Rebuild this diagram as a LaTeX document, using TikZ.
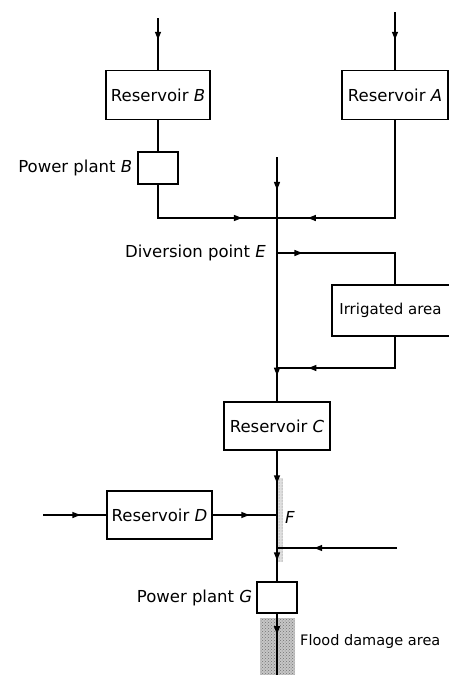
\documentclass[tikz,border=0pt]{standalone}
\usepackage{fontspec}
\setmainfont{DejaVu Sans}
\usetikzlibrary{arrows.meta,decorations.markings,patterns}
\tikzset{
  lbl/.style={font=\fontsize{16.5}{19}\selectfont, inner sep=0pt},
  box/.style={draw, line width=1.3pt, inner sep=0pt, font=\fontsize{16.5}{19}\selectfont, align=center},
  flow/.style={line width=1.4pt},
  arr/.style={postaction={decorate,decoration={markings,mark=at position #1 with {\arrow{Triangle[length=8pt,width=6pt]}}}}}
}
\begin{document}
\begin{tikzpicture}[x=1pt,y=-1pt]
\useasboundingbox (0,0) rectangle (448,675);
% shading
\fill[gray!45] (260,618) rectangle (295,680);
\fill[pattern=crosshatch dots, pattern color=gray!90!black] (260,618) rectangle (295,680);
\fill[gray!25] (278,478) rectangle (283,562);
\fill[pattern=dots, pattern color=gray] (278,478) rectangle (283,562);
% boxes
\node[box,minimum width=104pt,minimum height=49pt] (resB) at (158,95) {Reservoir \textit{B}};
\node[box,minimum width=106pt,minimum height=49pt] (resA) at (395,95) {Reservoir \textit{A}};
\node[box,minimum width=40pt,minimum height=32pt] (ppB) at (158,168) {};
\node[box,minimum width=124pt,minimum height=51pt,font=\fontsize{15}{18}\selectfont] (irr) at (394,310.5) {Irrigated area\hspace{7pt}};
\node[box,minimum width=106pt,minimum height=48pt] (resC) at (277,426) {Reservoir \textit{C}};
\node[box,minimum width=105pt,minimum height=48pt] (resD) at (159.5,515) {Reservoir \textit{D}};
\node[box,minimum width=40pt,minimum height=31pt] (ppG) at (277,597.5) {};
% labels
\node[lbl,anchor=east] (lppB) at ([xshift=-5pt]ppB.west) {Power plant \textit{B}};
\node[lbl,anchor=east] (lE) at (266,253) {Diversion point \textit{E}};
\node[lbl,anchor=west] (lF) at (285,517) {\textit{F}};
\node[lbl,anchor=east] (lppG) at ([xshift=-4pt]ppG.west) {Power plant \textit{G}};
\node[lbl,anchor=west,font=\fontsize{14.5}{17}\selectfont] (lfl) at (300,641) {Flood damage area};
% coordinates
\coordinate (inB) at (158,18);
\coordinate (inA) at (395,12);
\coordinate (topE) at (277,157);
\coordinate (cB) at (158,218);
\coordinate (cA) at (395,218);
\coordinate (J1) at (277,218);
\coordinate (E) at (277,253);
\coordinate (eR) at (395,253);
\coordinate (iR) at (395,368);
\coordinate (J2) at (277,368);
\coordinate (F) at (277,515);
\coordinate (inD) at (43,515);
\coordinate (J3) at (277,548);
\coordinate (inJ3) at (397,548);
\coordinate (bot) at (277,680);
% connectors
\draw[flow,arr=0.42] (inB) -- (resB.north);
\draw[flow,arr=0.48] (inA) -- (resA.north);
\draw[flow] (resB.south) -- (ppB.north);
\draw[flow,arr=0.77] (ppB.south) -- (cB) -- (J1);
\draw[flow,arr=0.857] (resA.south) -- (cA) -- (J1);
\draw[flow,arr=0.54] (topE) -- (J1);
\draw[flow,arr=0.86] (J1) -- (resC.north);
\draw[flow,arr=0.17] (E) -- (eR) -- (eR |- irr.north);
\draw[flow,arr=0.79] (iR |- irr.south) -- (iR) -- (J2);
\draw[flow,arr=0.25,arr=0.84] (resC.south) -- (ppG.north);
\draw[flow,arr=0.59] (inD) -- (resD.west);
\draw[flow,arr=0.57] (resD.east) -- (F);
\draw[flow,arr=0.69] (inJ3) -- (J3);
\draw[flow,arr=0.31] (ppG.south) -- (bot);
\end{tikzpicture}
\end{document}
